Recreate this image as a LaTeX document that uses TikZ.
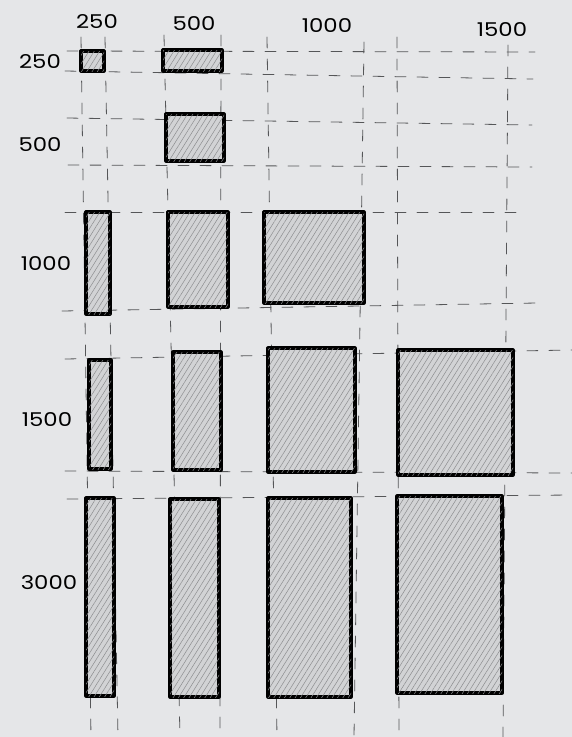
\documentclass[tikz,border=0pt]{standalone}
\usepackage{fontspec}
\setmainfont{Poppins}
\usetikzlibrary{patterns.meta}
\definecolor{bg}{RGB}{229,230,232}
\definecolor{boxfill}{RGB}{210,211,213}
\definecolor{hatchc}{RGB}{140,141,143}
\definecolor{guidec}{RGB}{85,86,88}
\begin{document}
\begin{tikzpicture}[x=1pt,y=-1pt,
  guide/.style={draw=guidec, line width=0.8pt, dash pattern=on 11pt off 11pt, line cap=round},
  box/.style={draw=black, line width=3.2pt, line join=round, fill=boxfill,
    postaction={pattern={Lines[angle=58,distance=4.5pt,line width=0.5pt]}, pattern color=hatchc}},
  lab/.style={font=\fontsize{19}{19}\selectfont, inner sep=0pt, xscale=1.2, transform shape}]
\fill[bg] (0,0) rectangle (572,737);
\useasboundingbox (0,0) rectangle (572,737);
% horizontal guides
\draw[guide] (67,51) -- (535,52);
\draw[guide] (65,71) -- (533,79);
\draw[guide] (67,118) -- (532,125);
\draw[guide] (68,165) -- (532,167);
\draw[guide] (65,212) -- (525,212);
\draw[guide] (62,311) -- (537,303);
\draw[guide] (65,359) -- (572,350);
\draw[guide] (65,471) -- (572,473);
\draw[guide] (67,499) -- (572,495);
% vertical guides
\draw[guide] (81,37) -- (91,737);
\draw[guide] (105,37) -- (118,737);
\draw[guide] (164,35) -- (180,737);
\draw[guide] (221,35) -- (220,737);
\draw[guide] (267,37) -- (277,737);
\draw[guide] (364,42) -- (354,737);
\draw[guide] (397,37) -- (399,737);
\draw[guide] (508,45) -- (503,737);
% boxes
\path[box] (81,51) rectangle (104,71);
\path[box] (163,50) rectangle (222,71);
\path[box] (166,114) rectangle (224,161);
\path[box] (86,212) rectangle (110,314);
\path[box] (168,212) rectangle (228,307);
\path[box] (264,212) rectangle (364,303);
\path[box] (89,360) rectangle (111,469);
\path[box] (173,352) rectangle (221,470);
\path[box] (268,348) rectangle (355,472);
\path[box] (398,350) rectangle (513,475);
\path[box] (86,498) rectangle (114,696);
\path[box] (170,499) rectangle (219,697);
\path[box] (268,498) rectangle (351,697);
\path[box] (397,496) rectangle (502,693);
% labels
\node[lab] (c250) at (97,22) {250};
\node[lab] (c500) at (194,24) {500};
\node[lab] (c1000) at (327,26) {1000};
\node[lab] (c1500) at (502,30) {1500};
\node[lab] (r250) at (40,62) {250};
\node[lab] (r500) at (40,145) {500};
\node[lab] (r1000) at (46,264) {1000};
\node[lab] (r1500) at (47,420) {1500};
\node[lab] (r3000) at (49,583) {3000};
\end{tikzpicture}
\end{document}
